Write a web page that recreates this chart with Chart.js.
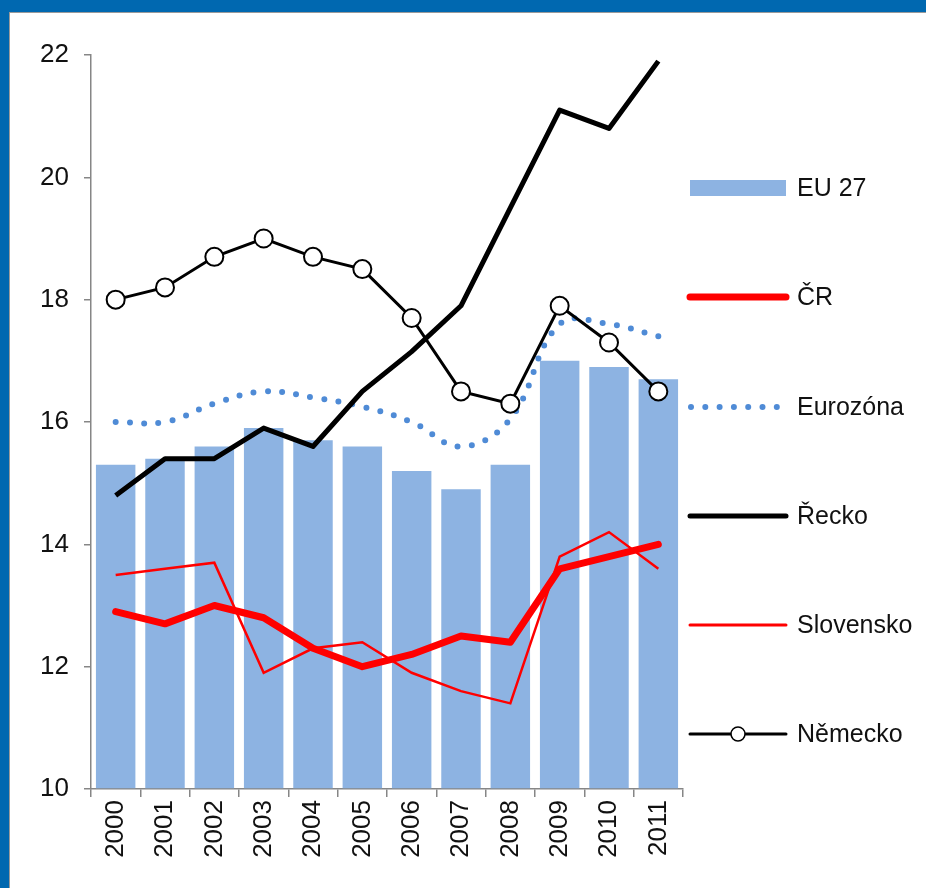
<!DOCTYPE html>
<html>
<head>
<meta charset="utf-8">
<script src="https://cdn.jsdelivr.net/npm/chart.js@4"></script>
<style>
  html, body { margin: 0; padding: 0; }
  body { width: 926px; height: 888px; background: #0068b0; position: relative; overflow: hidden; }
  #panel { position: absolute; left: 9px; top: 12px; width: 930px; height: 890px; background: #fff;
           border-left: 1px solid #9a9a9a; border-top: 1px solid #9a9a9a; }
  #chart { position: absolute; left: 0; top: 0; }
</style>
</head>
<body>
<div id="panel"></div>
<canvas id="chart" width="926" height="888"></canvas>
<script>
const years = ["2000", "2001", "2002", "2003", "2004", "2005", "2006", "2007", "2008", "2009", "2010", "2011"];

const eu27 = [15.3, 15.4, 15.6, 15.9, 15.7, 15.6, 15.2, 14.9, 15.3, 17.0, 16.9, 16.7];
const cr = [12.9, 12.7, 13.0, 12.8, 12.3, 12.0, 12.2, 12.5, 12.4, 13.6, 13.8, 14.0];
const eurozona = [16.0, 16.0, 16.3, 16.5, 16.4, 16.25, 16.0, 15.6, 16.05, 17.6, 17.6, 17.4];
const recko = [14.8, 15.4, 15.4, 15.9, 15.6, 16.5, 17.15, 17.9, 19.5, 21.1, 20.8, 21.9];
const slovensko = [13.5, 13.6, 13.7, 11.9, 12.3, 12.4, 11.9, 11.6, 11.4, 13.8, 14.2, 13.6];
const nemecko = [18.0, 18.2, 18.7, 19.0, 18.7, 18.5, 17.7, 16.5, 16.3, 17.9, 17.3, 16.5];

const yTicks = [10, 12, 14, 16, 18, 20, 22];

const FONT = "'Liberation Sans', Arial, sans-serif";
const axisGrey = "#868686";

// legend drawn by hand on the right, one row every ~109px
const legendRows = [
    { label: "EU 27", y: 188, kind: "bar" },
    { label: "ČR", y: 297, kind: "line", width: 7, color: "#ff0000" },
    { label: "Eurozóna", y: 407, kind: "dots" },
    { label: "Řecko", y: 516, kind: "line", width: 5, color: "#000000" },
    { label: "Slovensko", y: 625, kind: "line", width: 3, color: "#ff0000" },
    { label: "Německo", y: 734, kind: "marker" }
];

const sideLegend = {
    id: "sideLegend",
    afterDraw(chart) {
        const ctx = chart.ctx;
        const x0 = 688, x1 = 786;
        ctx.save();
        legendRows.forEach(r => {
            ctx.lineCap = "round";
            if (r.kind === "bar") {
                ctx.fillStyle = "#8db3e2";
                ctx.fillRect(x0 + 2, r.y - 8, x1 - x0 - 2, 16);
            } else if (r.kind === "line") {
                ctx.strokeStyle = r.color;
                ctx.lineWidth = r.width;
                ctx.beginPath();
                ctx.moveTo(x0 + 2, r.y);
                ctx.lineTo(x1, r.y);
                ctx.stroke();
            } else if (r.kind === "dots") {
                ctx.fillStyle = "#4f8bd6";
                for (let i = 0; i < 7; i++) {
                    ctx.beginPath();
                    ctx.arc(x0 + 3 + i * 14.3, r.y, 3, 0, Math.PI * 2);
                    ctx.fill();
                }
            } else if (r.kind === "marker") {
                ctx.strokeStyle = "#000";
                ctx.lineWidth = 3;
                ctx.beginPath();
                ctx.moveTo(x0 + 2, r.y);
                ctx.lineTo(x1, r.y);
                ctx.stroke();
                ctx.beginPath();
                ctx.arc(738, r.y, 7, 0, Math.PI * 2);
                ctx.fillStyle = "#fff";
                ctx.fill();
                ctx.lineWidth = 1.5;
                ctx.stroke();
            }
            ctx.fillStyle = "#111";
            ctx.font = "25px " + FONT;
            ctx.textBaseline = "middle";
            ctx.textAlign = "left";
            ctx.fillText(r.label, 797, r.y + 1);
        });
        ctx.restore();
    }
};

const ctx = document.getElementById("chart").getContext("2d");

new Chart(ctx, {
    data: {
        labels: years,
        datasets: [
            {
                type: "line",
                label: "Řecko",
                data: recko,
                borderColor: "#000",
                borderWidth: 5,
                borderJoinStyle: "round",
                pointRadius: 0,
                order: 1
            },
            {
                type: "line",
                label: "Německo",
                data: nemecko,
                borderColor: "#000",
                borderWidth: 3,
                pointRadius: 9,
                pointBorderWidth: 2,
                pointBackgroundColor: "#fff",
                pointBorderColor: "#000",
                order: 2
            },
            {
                type: "line",
                label: "ČR",
                data: cr,
                borderColor: "#ff0000",
                borderWidth: 7,
                borderJoinStyle: "round",
                borderCapStyle: "round",
                pointRadius: 0,
                order: 3
            },
            {
                type: "line",
                label: "Slovensko",
                data: slovensko,
                borderColor: "#ff0000",
                borderWidth: 2.5,
                pointRadius: 0,
                order: 4
            },
            {
                type: "line",
                label: "Eurozóna",
                data: eurozona,
                borderColor: "#4f8bd6",
                borderWidth: 6,
                borderDash: [0, 14.3],
                borderCapStyle: "round",
                tension: 0.4,
                pointRadius: 0,
                order: 5
            },
            {
                type: "bar",
                label: "EU 27",
                data: eu27,
                backgroundColor: "#8db3e2",
                barPercentage: 0.8,
                categoryPercentage: 1,
                base: 10,
                order: 6
            }
        ]
    },
    options: {
        responsive: false,
        animation: false,
        layout: { padding: { top: 55, right: 243, bottom: 0, left: 0 } },
        plugins: {
            legend: { display: false },
            tooltip: { enabled: false }
        },
        scales: {
            x: {
                offset: true,
                afterFit: s => { s.height = 99; },
                border: { display: true, color: axisGrey, width: 1.5 },
                grid: {
                    offset: true,
                    drawOnChartArea: false,
                    drawTicks: true,
                    tickLength: 8,
                    color: axisGrey,
                    lineWidth: 1.5
                },
                ticks: {
                    minRotation: 90,
                    maxRotation: 90,
                    padding: 3,
                    color: "#111",
                    font: { family: FONT, size: 26 }
                }
            },
            y: {
                min: 10,
                max: 22,
                afterFit: s => { s.width = 91; },
                afterBuildTicks: s => { s.ticks = yTicks.map(v => ({ value: v })); },
                border: { display: true, color: axisGrey, width: 1.5 },
                grid: {
                    drawOnChartArea: false,
                    drawTicks: true,
                    tickLength: 7,
                    color: axisGrey,
                    lineWidth: 1.5
                },
                ticks: {
                    padding: 15,
                    color: "#111",
                    font: { family: FONT, size: 26 }
                }
            }
        }
    },
    plugins: [sideLegend]
});
</script>
</body>
</html>
